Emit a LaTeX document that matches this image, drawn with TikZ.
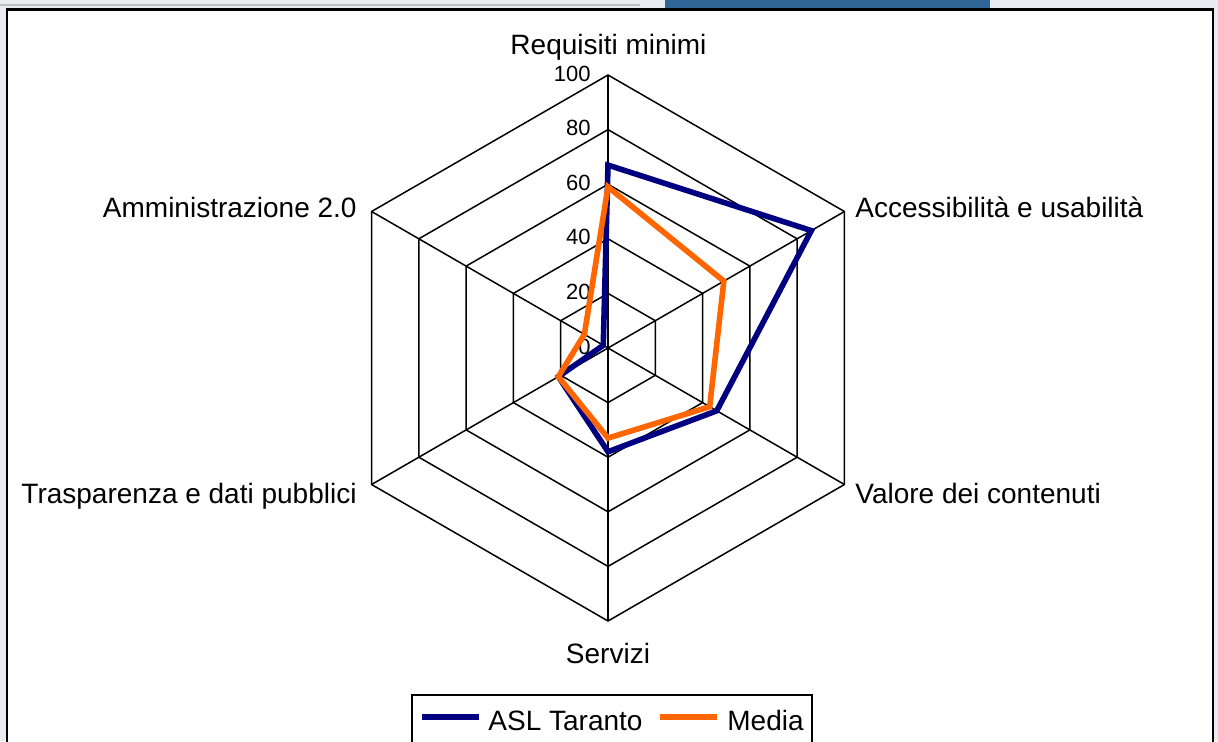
\documentclass[tikz,border=0pt]{standalone}
\usepackage{fontspec}
\setmainfont{Liberation Sans}
\usetikzlibrary{positioning}
\definecolor{aslblue}{RGB}{0,0,128}
\definecolor{mediaorange}{RGB}{255,102,0}
\definecolor{screengray}{RGB}{232,235,240}
\definecolor{barblue}{RGB}{46,100,150}

\begin{document}
\begin{tikzpicture}[x=0.5pt, y=0.5pt,
	grid line/.style={black, line width=0.75pt},
	asl line/.style={aslblue, line width=2.8pt},
	media line/.style={mediaorange, line width=2.8pt},
	axis label/.style={font=\fontsize{14}{16}\selectfont, inner sep=0pt},
	tick label/.style={font=\fontsize{11}{13}\selectfont, inner sep=0pt, anchor=east}]
	\useasboundingbox (-608,348) rectangle (610,-393);
	% screen round the chart
	\fill[screengray] (-608,348) rectangle (610,-393);
	\fill[gray!50] (-608,344) rectangle (32,342);
	\fill[barblue] (57,348) rectangle (382,339);
	\draw[fill=white, line width=1.1pt] (-601,338.5) rectangle (605,-420);
	% grid
	\coordinate (centre) at (0,0);
	\foreach \i/\a in {1/90,2/30,3/-30,4/-90,5/-150,6/150}{
		\foreach \r in {1,...,5}{
			\coordinate (v\i-\r) at (\a:{\r*54.6});
		}
		\draw[grid line] (centre) -- (v\i-5);
	}
	\foreach \r in {1,...,5}{
		\draw[grid line] (v1-\r) -- (v2-\r) -- (v3-\r) -- (v4-\r) -- (v5-\r) -- (v6-\r) -- cycle;
	}
	\foreach \r/\v in {0/0,1/20,2/40,3/60,4/80,5/100}{
		\node[tick label] (tick\v) at (-17,{\r*54.6+1.5}) {\v};
	}
	% axis labels
	\node[axis label, anchor=base] (req) at (0.5,294) {Requisiti minimi};
	\node[axis label, anchor=base west] (acc) at (247,131) {Accessibilità e usabilità};
	\node[axis label, anchor=base west] (val) at (247,-155) {Valore dei contenuti};
	\node[axis label, anchor=base] (serv) at (0,-315) {Servizi};
	\node[axis label, anchor=base east] (tras) at (-251,-155) {Trasparenza e dati pubblici};
	\node[axis label, anchor=base east] (amm) at (-251,131) {Amministrazione 2.0};
	% data
	\foreach \i/\a/\s/\m in {1/90/67/59,2/30/86/49,3/-30/46/43,4/-90/38/33,5/-150/21/21,6/150/2/10}{
		\coordinate (asl\i) at (\a:{\s*2.73});
		\coordinate (media\i) at (\a:{\m*2.73});
	}
	\draw[asl line] (asl1) -- (asl2) -- (asl3) -- (asl4) -- (asl5) -- (asl6) -- cycle;
	\draw[media line] (media1) -- (media2) -- (media3) -- (media4) -- (media5) -- (media6) -- cycle;
	% legend
	\draw[grid line] (-196,-347) rectangle (204,-430);
	\coordinate (key1a) at (-186,-369);
	\coordinate (key1b) at (-129,-369);
	\coordinate (key2a) at (52,-369);
	\coordinate (key2b) at (109,-369);
	\draw[asl line] (key1a) -- (key1b);
	\draw[media line] (key2a) -- (key2b);
	\node[axis label, anchor=base west] (asltext) at (-120,-382) {ASL Taranto};
	\node[axis label, anchor=base west] (mediatext) at (119,-382) {Media};
\end{tikzpicture}
\end{document}
